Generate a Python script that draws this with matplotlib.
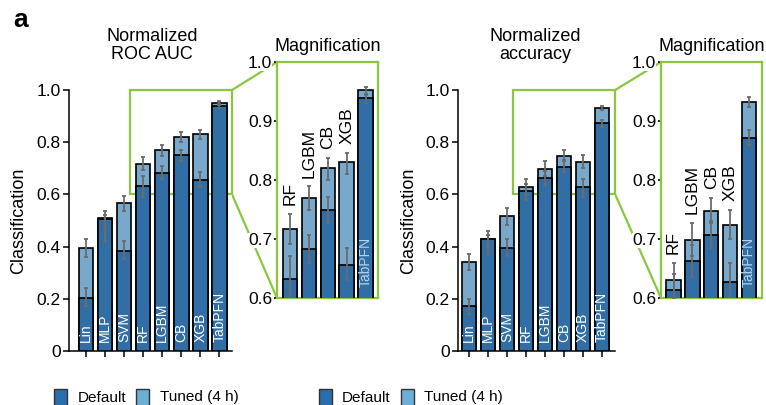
import numpy as np
import matplotlib.pyplot as plt
from matplotlib.patches import Rectangle, ConnectionPatch

plt.rcParams['font.family'] = ['Liberation Sans', 'DejaVu Sans']

models = ['Lin', 'MLP', 'SVM', 'RF', 'LGBM', 'CB', 'XGB', 'TabPFN']

# normalized ROC AUC
roc_default = [0.202, 0.505, 0.383, 0.633, 0.683, 0.750, 0.656, 0.939]
roc_tuned = [0.395, 0.508, 0.567, 0.717, 0.769, 0.820, 0.830, 0.952]
roc_default_lo = [0.172, 0.422, 0.351, 0.590, 0.659, 0.727, 0.630, 0.930]
roc_default_hi = [0.242, 0.520, 0.422, 0.672, 0.707, 0.771, 0.684, 0.946]
roc_tuned_lo = [0.362, 0.478, 0.537, 0.692, 0.749, 0.800, 0.811, 0.944]
roc_tuned_hi = [0.431, 0.536, 0.595, 0.742, 0.789, 0.838, 0.846, 0.958]

# normalized accuracy
acc_default = [0.172, 0.428, 0.396, 0.613, 0.662, 0.706, 0.627, 0.872]
acc_tuned = [0.341, 0.428, 0.518, 0.630, 0.698, 0.748, 0.724, 0.932]
acc_default_lo = [0.143, 0.370, 0.364, 0.580, 0.635, 0.685, 0.590, 0.860]
acc_default_hi = [0.200, 0.445, 0.428, 0.640, 0.690, 0.730, 0.660, 0.885]
acc_tuned_lo = [0.310, 0.400, 0.482, 0.600, 0.672, 0.727, 0.700, 0.924]
acc_tuned_hi = [0.370, 0.460, 0.546, 0.660, 0.727, 0.769, 0.750, 0.940]

DARK = '#306ea5'
LIGHT = '#78a8cc'
GREEN = '#8cc63f'
ERR = '#6b6b6b'
W, H = 766, 405

fig = plt.figure(figsize=(W / 100, H / 100), dpi=100)


def px_axes(x0, y0, x1, y1):
    return fig.add_axes([x0 / W, 1 - y1 / H, (x1 - x0) / W, (y1 - y0) / H])


def draw_bars(ax, idx, d, t, dlo, dhi, tlo, thi):
    d = np.array(d)[idx]
    t = np.array(t)[idx]
    ax.bar(idx, t, width=0.76, color=LIGHT, edgecolor='black', linewidth=1.2, zorder=2)
    ax.bar(idx, d, width=0.76, color=DARK, edgecolor='black', linewidth=1.2, zorder=3)
    for v, lo, hi in [(t, tlo, thi), (d, dlo, dhi)]:
        lo = np.array(lo)[idx]
        hi = np.array(hi)[idx]
        ax.errorbar(idx, v, yerr=[v - lo, hi - v], fmt='none', ecolor=ERR,
                    elinewidth=1.3, capsize=1.6, capthick=1.3, zorder=4)


def panel(main_box, mag_box, xlim, rect_x, title, title_x, ylab_x, legend_x,
          d, t, dlo, dhi, tlo, thi):
    ax = px_axes(*main_box)
    idx = np.arange(len(models))
    draw_bars(ax, idx, d, t, dlo, dhi, tlo, thi)
    for i, m in enumerate(models):
        ax.text(i, 0.035, m, rotation=90, ha='center', va='bottom', color='white',
                fontsize=10, zorder=5)
    ax.set_xlim(*xlim)
    ax.set_ylim(0, 1)
    ax.set_xticks(idx)
    ax.set_xticklabels([])
    ax.set_yticks([0, 0.2, 0.4, 0.6, 0.8, 1.0])
    ax.set_yticklabels(['0', '0.2', '0.4', '0.6', '0.8', '1.0'])
    ax.tick_params(length=4.5, width=1.1, pad=1.5, labelsize=12.5)
    for s in ['top', 'right']:
        ax.spines[s].set_visible(False)
    for s in ['left', 'bottom']:
        ax.spines[s].set_linewidth(1.1)
    ax.add_patch(Rectangle((rect_x[0], 0.6), rect_x[1] - rect_x[0], 0.4, fill=False,
                           edgecolor=GREEN, linewidth=1.6, zorder=1, clip_on=False))

    mx = px_axes(*mag_box)
    sub = np.arange(3, 8)
    draw_bars(mx, sub, d, t, dlo, dhi, tlo, thi)
    for i in sub:
        if models[i] == 'TabPFN':
            mx.text(i, 0.619, models[i], rotation=90, ha='center', va='bottom',
                    color='#b5d3ee', fontsize=10, zorder=5)
        else:
            mx.text(i, thi[i] + 0.015, models[i], rotation=90, ha='center', va='bottom',
                    color='black', fontsize=12.5, zorder=5)
    mx.set_xlim(*rect_x)
    mx.set_ylim(0.6, 1.0)
    mx.set_yticks([0.6, 0.7, 0.8, 0.9, 1.0])
    mx.set_yticklabels(['0.6', '0.7', '0.8', '0.9', '1.0'])
    mx.tick_params(axis='y', length=2.5, width=1.2, pad=1, labelsize=12.5)
    mx.tick_params(axis='x', bottom=False, labelbottom=False)
    for s in mx.spines.values():
        s.set_color(GREEN)
        s.set_linewidth(1.6)
    for lab in mx.get_yticklabels():
        lab.set_bbox(dict(facecolor='white', edgecolor='none', pad=0))

    for ya in [1.0, 0.6]:
        con = ConnectionPatch(xyA=(rect_x[1], ya), coordsA=ax.transData,
                              xyB=(rect_x[0], ya), coordsB=mx.transData,
                              color=GREEN, linewidth=1.6, zorder=-1)
        fig.add_artist(con)

    fig.text(title_x / W, 1 - 63 / H, title, ha='center', va='bottom', fontsize=13,
             linespacing=1.1)
    mcx = (mag_box[0] + mag_box[2]) / 2
    fig.text(mcx / W, 1 - 55 / H, 'Magnification', ha='center', va='bottom', fontsize=13)
    fig.text(ylab_x / W, 1 - 220.5 / H, 'Classification', rotation=90, ha='center',
             va='center', fontsize=13)

    # legend row: swatch + label, twice
    lx = legend_x
    for off, col, lab in [(0, '#286eaf', 'Default'), (82, '#6baed6', 'Tuned (4 h)')]:
        fig.add_artist(Rectangle(((lx + off) / W, 1 - 409 / H), 13 / W, 20 / H,
                                 transform=fig.transFigure, facecolor=col,
                                 edgecolor='#333333', linewidth=1))
        fig.text((lx + off + 23.5) / W, 1 - 401.5 / H, lab, ha='left', va='baseline',
                 fontsize=11, family=['Liberation Sans Narrow', 'Liberation Sans'])


panel((69, 90, 232, 351), (277, 62, 378, 298), (-0.89, 7.66), (2.31, 7.66),
      'Normalized\nROC AUC', 152, 18.3, 54,
      roc_default, roc_tuned, roc_default_lo, roc_default_hi, roc_tuned_lo, roc_tuned_hi)
panel((458.3, 90, 615.2, 351), (661, 62, 762, 298), (-0.57, 7.7), (2.33, 7.7),
      'Normalized\naccuracy', 535, 408.3, 318.5,
      acc_default, acc_tuned, acc_default_lo, acc_default_hi, acc_tuned_lo, acc_tuned_hi)

fig.text(13 / W, 1 - 27 / H, 'a', fontsize=19, fontweight='bold', va='baseline')

fig.savefig('out.png', dpi=100)
